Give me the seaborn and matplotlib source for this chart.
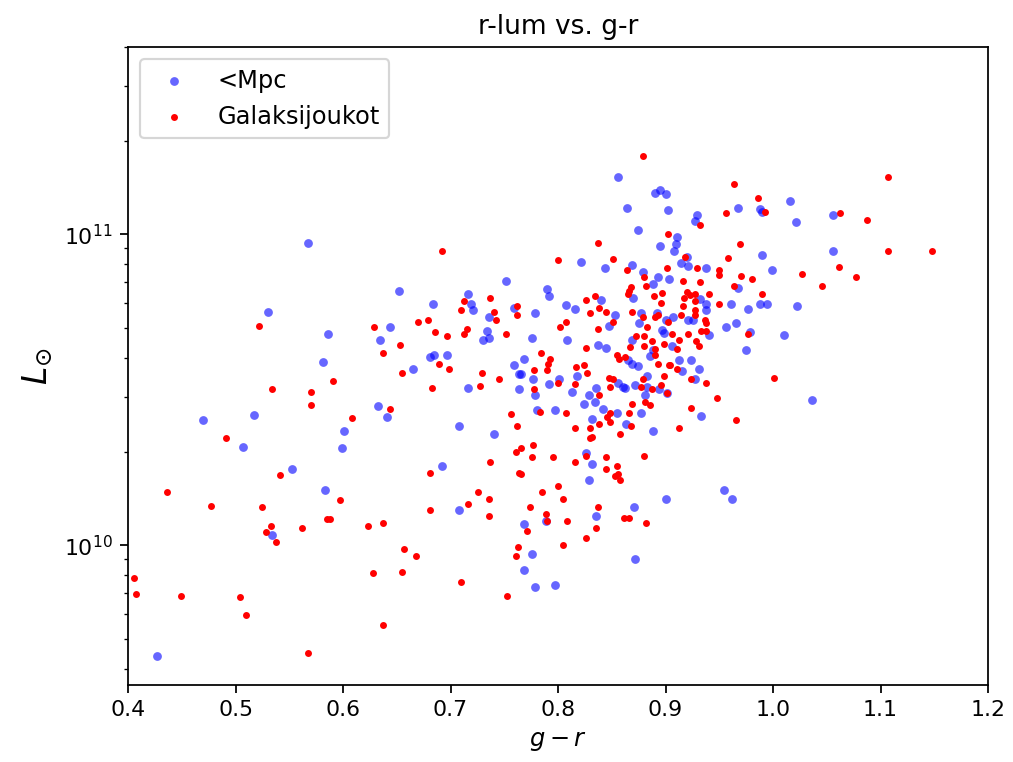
import numpy as np
import pandas as pd
import matplotlib
matplotlib.use("Agg")
import matplotlib.pyplot as plt
import seaborn as sns

# <Mpc sample: g-r colour and log10 of r-band luminosity (L_sun)
blue_gr = [0.567, 0.530, 0.586, 0.581, 0.470, 0.517, 0.507, 0.601, 0.599, 0.553, 0.583, 0.534, 0.427,
           0.752, 0.652, 0.684, 0.716, 0.719, 0.721, 0.759, 0.736, 0.644, 0.634, 0.734, 0.730, 0.736,
           0.681, 0.685, 0.697, 0.665, 0.759, 0.764, 0.716, 0.764, 0.633, 0.641,
           0.708, 0.740, 0.692, 0.708,
           0.856, 0.890, 0.895, 0.900, 0.864, 0.902, 0.874, 0.895, 0.821, 0.844, 0.869, 0.879, 0.893,
           0.903, 0.888, 0.790, 0.792, 0.870, 0.840, 0.807, 0.816, 0.853, 0.877, 0.892, 0.900, 0.875,
           0.847, 0.779, 0.897, 0.899, 0.776, 0.808, 0.869, 0.837, 0.845, 0.888, 0.768, 0.865, 0.886,
           0.869, 0.874, 0.766, 0.818, 0.777, 0.801, 0.792, 0.856, 0.860, 0.862, 0.883, 0.872, 0.883,
           0.894, 0.901, 0.779, 0.813, 0.835, 0.829, 0.824, 0.834, 0.842, 0.855, 0.881, 0.877, 0.780,
           0.797,
           0.832, 0.863, 0.888, 0.826, 0.832, 0.829, 0.900, 0.871, 0.789, 0.835, 0.768, 0.776, 0.872,
           0.768, 0.779, 0.797,
           1.016, 0.967, 0.988, 0.990, 1.021, 0.929, 0.927, 0.911, 0.910, 0.908, 0.990, 0.920, 0.914,
           0.921, 0.938, 0.999, 0.967, 0.932, 0.938, 0.961, 0.988, 0.994, 1.022, 0.977, 0.938, 0.907,
           0.921, 0.926, 0.966, 0.956, 0.940, 0.979, 1.010, 0.906, 0.975, 0.913, 0.924, 0.931, 0.915,
           0.927, 1.036, 0.933,
           0.954, 0.962, 1.056, 1.056]
blue_logL = [10.972, 10.750, 10.678, 10.589, 10.404, 10.418, 10.316, 10.367, 10.311, 10.244, 10.178, 10.032, 9.643,
             10.851, 10.818, 10.774, 10.807, 10.777, 10.756, 10.762, 10.734, 10.701, 10.661, 10.689, 10.661, 10.667,
             10.606, 10.611, 10.611, 10.567, 10.578, 10.552, 10.506, 10.501, 10.449, 10.413,
             10.384, 10.356, 10.256, 10.112,
             11.184, 11.134, 11.141, 11.129, 11.084, 11.078, 11.013, 10.961, 10.912, 10.891, 10.900, 10.880, 10.861,
             10.856, 10.841, 10.824, 10.801, 10.796, 10.790, 10.773, 10.761, 10.740, 10.745, 10.745, 10.723, 10.716,
             10.705, 10.745, 10.693, 10.683, 10.667, 10.661, 10.659, 10.645, 10.633, 10.629, 10.599, 10.594, 10.609,
             10.582, 10.577, 10.550, 10.544, 10.533, 10.535, 10.517, 10.523, 10.509, 10.504, 10.544, 10.514, 10.509,
             10.501, 10.488, 10.482, 10.493, 10.506, 10.482, 10.455, 10.461, 10.438, 10.425, 10.482, 10.424, 10.436,
             10.436,
             10.405, 10.389, 10.367, 10.295, 10.260, 10.211, 10.150, 10.122, 10.077, 10.093, 10.067, 9.971, 9.955,
             9.921, 9.866, 9.871,
             11.106, 11.084, 11.080, 11.073, 11.040, 11.062, 11.041, 10.990, 10.970, 10.945, 10.933, 10.927, 10.906,
             10.899, 10.890, 10.884, 10.827, 10.791, 10.777, 10.774, 10.774, 10.774, 10.768, 10.761, 10.755, 10.734,
             10.723, 10.723, 10.716, 10.700, 10.677, 10.686, 10.677, 10.640, 10.628, 10.595, 10.595, 10.567, 10.559,
             10.534, 10.466, 10.415,
             10.177, 10.149, 11.061, 10.945]

# Galaxy-cluster sample
red_gr = [0.522, 0.591, 0.534, 0.570, 0.570, 0.491, 0.541, 0.436, 0.477, 0.525, 0.597, 0.585, 0.588, 0.533,
          0.528, 0.538, 0.562, 0.406, 0.407, 0.449, 0.504, 0.510, 0.567,
          0.692, 0.737, 0.713, 0.710, 0.740, 0.762, 0.762, 0.742, 0.670, 0.679, 0.629, 0.653, 0.637, 0.686,
          0.697, 0.715, 0.713, 0.752, 0.689, 0.699, 0.655, 0.729, 0.745, 0.683, 0.727, 0.644, 0.608, 0.756,
          0.762, 0.761, 0.764, 0.737, 0.681, 0.726, 0.736, 0.716, 0.681, 0.736, 0.623, 0.637, 0.657, 0.668,
          0.628, 0.655, 0.710, 0.753, 0.637,
          0.879, 0.902, 0.837, 0.800, 0.851, 0.864, 0.901, 0.880, 0.882, 0.868, 0.866, 0.865, 0.889, 0.897,
          0.896, 0.826, 0.834, 0.838, 0.845, 0.830, 0.869, 0.879, 0.890, 0.893, 0.902, 0.851, 0.807, 0.802,
          0.837, 0.883, 0.873, 0.880, 0.887, 0.826, 0.867, 0.880, 0.890, 0.899, 0.784, 0.793, 0.791, 0.855,
          0.857, 0.862, 0.890, 0.893, 0.903, 0.778, 0.790, 0.817, 0.824, 0.827, 0.800, 0.816, 0.847, 0.851,
          0.848, 0.879, 0.877, 0.887, 0.896, 0.899, 0.778, 0.838, 0.848, 0.866, 0.869, 0.881, 0.886, 0.783,
          0.807,
          0.846, 0.848, 0.838, 0.868, 0.816, 0.830, 0.858, 0.830, 0.832, 0.777, 0.766, 0.776, 0.795, 0.826,
          0.816, 0.845, 0.845, 0.855, 0.853, 0.856, 0.858, 0.880, 0.766, 0.800, 0.785, 0.805, 0.774, 0.837,
          0.789, 0.790, 0.808, 0.861, 0.866, 0.882, 0.771, 0.835, 0.826, 0.805, 0.763, 0.761,
          0.964, 0.986, 0.993, 0.956, 0.932, 0.969, 0.958, 0.918, 0.929, 0.950, 0.950, 1.027, 0.970, 0.980,
          0.916, 0.932, 0.964, 0.920, 0.923, 0.927, 0.940, 0.990, 0.917, 0.927, 0.950, 0.916, 0.927, 0.927,
          0.914, 0.937, 0.938, 0.933, 0.938, 0.921, 0.906, 0.977, 0.913, 0.928, 0.931, 0.911, 0.904, 0.911,
          0.924, 0.938, 1.001, 0.901, 0.948, 0.924, 0.966,
          0.913, 1.107, 1.062, 1.087, 1.107, 1.148, 1.061, 1.077, 1.046]
red_logL = [10.705, 10.528, 10.501, 10.494, 10.450, 10.344, 10.227, 10.171, 10.126, 10.122, 10.145, 10.083, 10.083, 10.061,
            10.043, 10.010, 10.055, 9.893, 9.843, 9.837, 9.832, 9.776, 9.654,
            10.945, 10.795, 10.784, 10.756, 10.750, 10.768, 10.740, 10.723, 10.717, 10.723, 10.701, 10.645, 10.617, 10.684,
            10.672, 10.695, 10.678, 10.678, 10.584, 10.567, 10.555, 10.555, 10.533, 10.506, 10.511, 10.438, 10.409, 10.421,
            10.384, 10.300, 10.232, 10.267, 10.232, 10.172, 10.150, 10.133, 10.112, 10.094, 10.061, 10.072, 9.988, 9.966,
            9.910, 9.915, 9.882, 9.837, 9.743,
            11.252, 11.000, 10.973, 10.917, 10.919, 10.884, 10.892, 10.862, 10.834, 10.831, 10.818, 10.807, 10.801, 10.811,
            10.778, 10.790, 10.802, 10.763, 10.750, 10.745, 10.750, 10.734, 10.734, 10.740, 10.717, 10.717, 10.717, 10.700,
            10.695, 10.700, 10.672, 10.672, 10.656, 10.633, 10.638, 10.640, 10.632, 10.646, 10.618, 10.599, 10.582, 10.610,
            10.599, 10.606, 10.611, 10.582, 10.578, 10.563, 10.563, 10.573, 10.580, 10.555, 10.522, 10.517, 10.539, 10.534,
            10.507, 10.533, 10.507, 10.501, 10.514, 10.543, 10.501, 10.482, 10.424, 10.424, 10.455, 10.461, 10.450, 10.429,
            10.424,
            10.411, 10.395, 10.389, 10.383, 10.377, 10.377, 10.356, 10.344, 10.349, 10.323, 10.311, 10.283, 10.283, 10.288,
            10.267, 10.283, 10.244, 10.256, 10.223, 10.228, 10.211, 10.288, 10.228, 10.189, 10.172, 10.150, 10.122, 10.122,
            10.100, 10.078, 10.077, 10.088, 10.088, 10.072, 10.044, 10.055, 10.022, 9.999, 9.994, 9.966,
            11.163, 11.118, 11.073, 11.068, 11.028, 10.967, 10.923, 10.928, 10.890, 10.884, 10.868, 10.872, 10.867, 10.856,
            10.851, 10.845, 10.834, 10.815, 10.806, 10.807, 10.807, 10.807, 10.796, 10.785, 10.774, 10.768, 10.756, 10.740,
            10.740, 10.723, 10.713, 10.689, 10.689, 10.678, 10.678, 10.678, 10.661, 10.657, 10.640, 10.632, 10.578, 10.567,
            10.534, 10.522, 10.539, 10.490, 10.472, 10.440, 10.404,
            10.377, 11.184, 11.068, 11.045, 10.945, 10.945, 10.895, 10.863, 10.834]

labels = ["<Mpc", "Galaksijoukot"]
xticks = [0.4, 0.5, 0.6, 0.7, 0.8, 0.9, 1.0, 1.1, 1.2]

blue_df = pd.DataFrame({"gr": blue_gr, "L": 10 ** np.array(blue_logL)})
red_df = pd.DataFrame({"gr": red_gr, "L": 10 ** np.array(red_logL)})

dpi = 158
fig = plt.figure(figsize=(1013 / dpi, 762 / dpi), dpi=dpi)
ax = fig.add_axes([128 / 1013, 1 - 685 / 762, 860 / 1013, 638 / 762])

sns.scatterplot(data=blue_df, x="gr", y="L", ax=ax, color="blue", alpha=0.6,
                s=16, linewidth=0, label=labels[0])
sns.scatterplot(data=red_df, x="gr", y="L", ax=ax, color="red",
                s=10, linewidth=0, label=labels[1])

ax.set_yscale("log")
ax.set_xlim(0.4, 1.2)
ax.set_ylim(3.55e9, 4.0e11)
ax.set_xticks(xticks)
ax.set_title("r-lum vs. g-r", fontsize=12)
ax.set_xlabel("$g-r$", fontsize=11)
ax.set_ylabel(r"$L_{\odot}$", fontsize=15)
ax.legend(loc="upper left", fontsize=11)

fig.savefig("out.png", dpi=dpi)
